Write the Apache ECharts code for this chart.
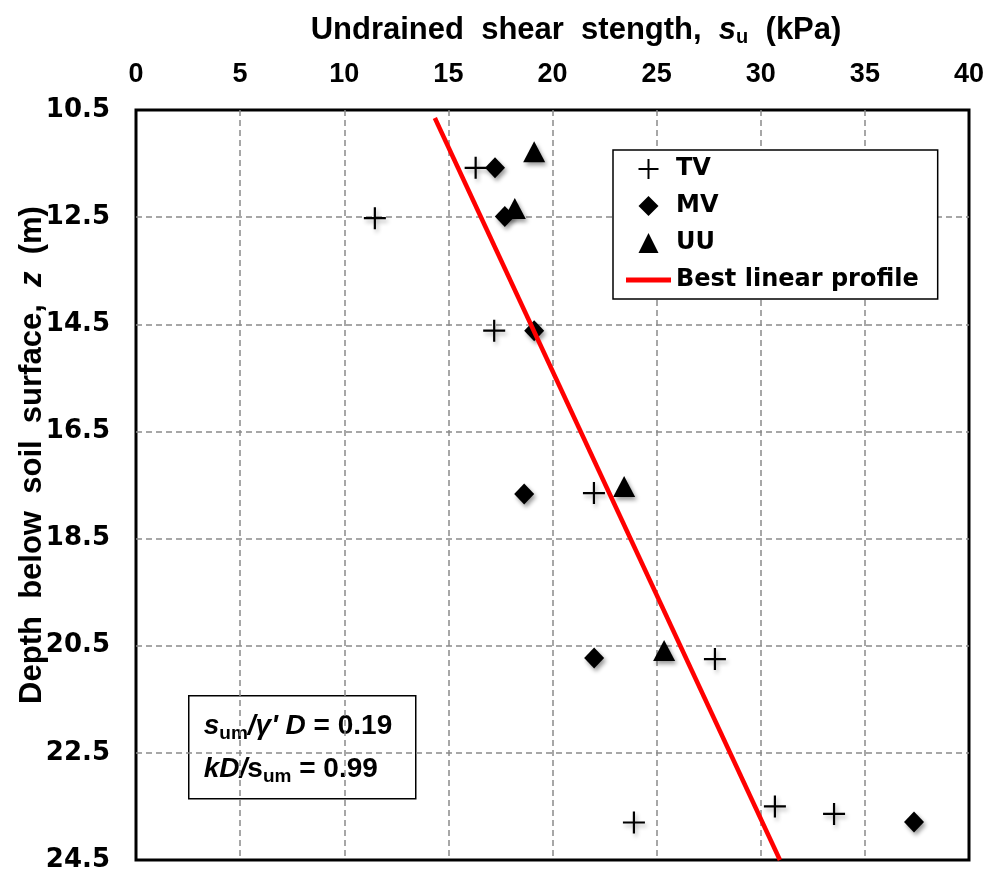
<!DOCTYPE html>
<html>
<head>
<meta charset="utf-8">
<script src="https://cdn.jsdelivr.net/npm/echarts@6/dist/echarts.min.js"></script>
<style>
  html, body { margin: 0; padding: 0; background: #ffffff; }
  #chart { width: 990px; height: 876px; }
</style>
</head>
<body>
<div id="chart"></div>
<script>
// Torvane (TV) measurements: strength (kPa) and depth (m)
const tvStrength = [16.31, 11.47, 17.20, 21.99, 27.80, 23.91, 30.68, 33.52];
const tvDepth    = [11.58, 12.52, 14.62, 17.65, 20.75, 23.80, 23.50, 23.64];
// Miniature vane (MV)
const mvStrength = [17.24, 17.71, 19.12, 18.64, 22.00, 37.36];
const mvDepth    = [11.58, 12.49, 14.62, 17.67, 20.73, 23.79];
// Unconsolidated undrained triaxial (UU)
const uuStrength = [19.12, 18.19, 23.44, 25.36];
const uuDepth    = [11.28, 12.34, 17.53, 20.59];
// Best linear profile end points
const profileStrength = [14.35, 30.92];
const profileDepth    = [10.65, 24.50];
// Depth axis labels
const depthTicks = [10.5, 12.5, 14.5, 16.5, 18.5, 20.5, 22.5, 24.5];

const pairs = (xs, ys) => xs.map((x, i) => [x, ys[i]]);

// Symbol outlines (path symbols keep their aspect inside the legend box)
const plusPath = 'path://M-1,-0.1L-0.1,-0.1L-0.1,-1L0.1,-1L0.1,-0.1L1,-0.1L1,0.1L0.1,0.1L0.1,1L-0.1,1L-0.1,0.1L-1,0.1Z';
const diamondPath = 'path://M0,-1L1,0L0,1L-1,0Z';
const trianglePath = 'path://M0,-1L1,1L-1,1Z';
const linePath = 'path://M0,0L9,0L9,1L0,1Z';

const markShadow = {
  color: '#000',
  opacity: 1,
  shadowBlur: 4,
  shadowColor: 'rgba(0,0,0,0.4)',
  shadowOffsetX: 2,
  shadowOffsetY: 3
};
const gridDash = { color: '#8a8a8a', width: 1.5, type: [6, 4] };
const arial = "'Liberation Sans', Arial, sans-serif";
const wide = "'DejaVu Sans', sans-serif";

const chart = echarts.init(document.getElementById('chart'), null, { renderer: 'canvas' });

chart.setOption({
  backgroundColor: '#ffffff',
  animation: false,
  grid: {
    left: 136, right: 21, top: 110, bottom: 16,
    show: true, borderColor: '#000', borderWidth: 3, backgroundColor: 'transparent'
  },
  xAxis: {
    type: 'value', position: 'top', min: 0, max: 40, interval: 5,
    axisLine: { show: false }, axisTick: { show: false },
    axisLabel: { color: '#000', fontFamily: arial, fontWeight: 'bold', fontSize: 27, margin: 22 },
    splitLine: { show: true, showMinLine: false, showMaxLine: false, lineStyle: gridDash }
  },
  yAxis: {
    type: 'value', inverse: true, min: 10.5, max: 24.5,
    axisLine: { show: false },
    axisTick: { show: false, customValues: depthTicks },
    axisLabel: { color: '#000', fontFamily: wide, fontWeight: 'bold', fontSize: 26, margin: 26, customValues: depthTicks,
                 formatter: v => v.toFixed(1) },
    splitLine: { show: true, showMinLine: false, showMaxLine: false, lineStyle: gridDash }
  },
  legend: {
    orient: 'vertical', left: 613, top: 150,
    padding: [7, 19, 7, 13], itemGap: 13,
    itemWidth: 45, itemHeight: 20,
    symbolKeepAspect: true,
    borderColor: '#000', borderWidth: 1.5, borderRadius: 0, backgroundColor: '#fff',
    itemStyle: { opacity: 1, shadowBlur: 0, shadowOffsetX: 0, shadowOffsetY: 0, shadowColor: 'transparent' },
    textStyle: { color: '#000', fontFamily: wide, fontWeight: 'bold', fontSize: 24 },
    data: [
      { name: 'TV', icon: plusPath },
      { name: 'MV', icon: diamondPath },
      { name: 'UU', icon: trianglePath },
      { name: 'Best linear profile', icon: linePath }
    ]
  },
  series: [
    {
      name: 'TV', type: 'scatter', symbol: plusPath, symbolSize: 22, symbolKeepAspect: true, z: 2,
      itemStyle: Object.assign({}, markShadow, { shadowColor: 'rgba(0,0,0,0.3)' }),
      data: pairs(tvStrength, tvDepth)
    },
    {
      name: 'MV', type: 'scatter', symbol: 'diamond', symbolSize: [20, 21], z: 2,
      itemStyle: markShadow,
      data: pairs(mvStrength, mvDepth)
    },
    {
      name: 'UU', type: 'scatter', symbol: 'triangle', symbolSize: [22, 21], z: 2,
      itemStyle: markShadow,
      data: pairs(uuStrength, uuDepth)
    },
    {
      name: 'Best linear profile', type: 'line', symbol: 'none', z: 3,
      lineStyle: { color: '#ff0000', width: 4.5 },
      itemStyle: { color: '#ff0000' },
      data: pairs(profileStrength, profileDepth)
    }
  ],
  graphic: [
    {
      type: 'text', x: 576, y: 30,
      style: {
        text: 'Undrained  shear  stength,  {si|s}{sub|u}  (kPa)',
        fill: '#000', font: 'bold 31px ' + arial,
        textAlign: 'center', textVerticalAlign: 'middle',
        rich: {
          si: { fontStyle: 'italic', fontWeight: 'bold', fontSize: 31, fontFamily: arial, lineHeight: 34 },
          sub: { fontWeight: 'bold', fontSize: 20, fontFamily: arial, lineHeight: 20, padding: [14, 0, 0, 0] }
        }
      }
    },
    {
      type: 'text', x: 32, y: 455, rotation: Math.PI / 2,
      style: {
        text: 'Depth  below  soil  surface,  {si|z}  (m)',
        fill: '#000', font: 'bold 31px ' + arial,
        textAlign: 'center', textVerticalAlign: 'middle',
        rich: {
          si: { fontStyle: 'italic', fontWeight: 'bold', fontSize: 31, fontFamily: arial }
        }
      }
    },
    {
      type: 'group', left: 188, top: 695,
      children: [
        {
          type: 'rect', shape: { x: 0, y: 0, width: 227, height: 103 },
          style: { fill: '#fff', stroke: '#000', lineWidth: 1.5 }
        },
        {
          type: 'text', x: 15, y: 31,
          style: {
            text: '{si|s}{sub|um}{si|/γ\' D}{n| = 0.19}',
            fill: '#000', textVerticalAlign: 'middle',
            rich: {
              si: { fontStyle: 'italic', fontWeight: 'bold', fontSize: 28, fontFamily: arial, lineHeight: 34 },
              n: { fontWeight: 'bold', fontSize: 28, fontFamily: arial, lineHeight: 34 },
              sub: { fontWeight: 'bold', fontSize: 19, fontFamily: arial, lineHeight: 20, padding: [14, 0, 0, 0] }
            }
          }
        },
        {
          type: 'text', x: 15, y: 74,
          style: {
            text: '{si|kD/}{n|s}{sub|um}{n| = 0.99}',
            fill: '#000', textVerticalAlign: 'middle',
            rich: {
              si: { fontStyle: 'italic', fontWeight: 'bold', fontSize: 28, fontFamily: arial, lineHeight: 34 },
              n: { fontWeight: 'bold', fontSize: 28, fontFamily: arial, lineHeight: 34 },
              sub: { fontWeight: 'bold', fontSize: 19, fontFamily: arial, lineHeight: 20, padding: [14, 0, 0, 0] }
            }
          }
        }
      ]
    }
  ]
});
</script>
</body>
</html>
